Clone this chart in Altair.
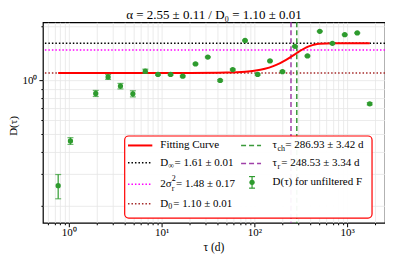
import altair as alt
import pandas as pd

FONT = "Liberation Serif"
NB = "\u00a0"

# ---- data ----
tau = [0.767, 1.04, 1.95, 2.65, 3.6, 4.9, 6.67, 9.14, 12.5, 16.9, 23.2, 31.5, 42.8,
       58.5, 79.4, 108.6, 147.5, 201, 274, 374, 508, 695, 944, 1288, 1754]
D_val = [0.259, 0.46, 0.847, 1.047, 0.93, 0.843, 1.126, 1.08, 1.08, 1.057, 1.237, 1.35, 1.0,
         1.15, 1.67, 1.08, 1.285, 1.12, 1.55, 1.37, 1.88, 1.61, 1.8, 1.84, 0.741]
D_err = [0.04, 0.02, 0.033, 0.033, 0.033, 0.033, 0.03, 0.01, 0.01, 0.01, 0.01, 0.01, 0.01,
         0.01, 0.01, 0.01, 0.01, 0.01, 0.01, 0.01, 0.01, 0.01, 0.01, 0.01, 0.01]

curve_tau = [0.767, 5, 20, 50, 80, 100, 130, 160, 190, 220, 250, 287, 320, 360, 400,
             450, 500, 600, 700, 1000, 1754]
curve_D = [1.10, 1.10, 1.101, 1.106, 1.119, 1.134, 1.163, 1.203, 1.250, 1.303, 1.358,
           1.422, 1.474, 1.524, 1.560, 1.588, 1.602, 1.609, 1.61, 1.61, 1.61]

h_names = ["D_inf", "2sigma2", "D0"]
h_values = [1.61, 1.48, 1.10]
h_colors = ["black", "magenta", "#a52a2a"]

v_names = ["tau_ch", "tau_r"]
v_values = [286.93, 248.53]
v_colors = ["#3a9a3a", "#a040a8"]

x_ticks = [0.6, 0.7, 0.8, 0.9, 1, 2, 3, 4, 5, 6, 7, 8, 9, 10, 20, 30, 40, 50, 60, 70, 80, 90,
           100, 200, 300, 400, 500, 600, 700, 800, 900, 1000, 2000]
y_ticks = [0.2, 0.3, 0.4, 0.5, 0.6, 0.7, 0.8, 0.9, 1, 2]

title_text = "α = 2.55 ± 0.11 / D₀ = 1.10 ± 0.01"
x_title = "τ (d)"
y_title = "D(τ)"

# ---- tables ----
pts = pd.DataFrame({"tau": tau, "D": D_val, "err": D_err})
pts["lo"] = pts["D"] - pts["err"]
pts["hi"] = pts["D"] + pts["err"]
curve = pd.DataFrame({"tau": curve_tau, "D": curve_D})
one = pd.DataFrame({"a": [0]})

W, H = 343, 201

is_major = "abs(log(datum.value)/LN10 - round(log(datum.value)/LN10)) < 0.001"
xscale = alt.Scale(type="log", domain=[0.525, 2565], nice=False)
yscale = alt.Scale(type="log", domain=[0.161, 2.11], nice=False)
xaxis = alt.Axis(values=x_ticks, title=None,
                 labelExpr="datum.value == 1 ? '10⁰' : datum.value == 10 ? '10¹' : datum.value == 100 ? '10²' : datum.value == 1000 ? '10³' : ''",
                 tickSize={"condition": {"test": is_major, "value": 4}, "value": 2},
                 labelOverlap=False, labelFlush=False, labelBaseline="middle", labelPadding=6)
yaxis = alt.Axis(values=y_ticks, title=None,
                 labelExpr="datum.value == 1 ? '10⁰' : ''",
                 tickSize={"condition": {"test": is_major, "value": 4}, "value": 2},
                 labelOverlap=False, labelFlush=False, labelPadding=2)

X = lambda f: alt.X(f, type="quantitative", scale=xscale, axis=xaxis)
Y = lambda f: alt.Y(f, type="quantitative", scale=yscale, axis=yaxis)

layers = []

# horizontal dotted lines
for n, v, c in zip(h_names, h_values, h_colors):
    layers.append(alt.Chart(pd.DataFrame({"v": [v]})).mark_rule(
        color=c, strokeDash=[1.5, 2], strokeWidth=1.5).encode(y=Y("v")))
# vertical dashed lines
for n, v, c in zip(v_names, v_values, v_colors):
    layers.append(alt.Chart(pd.DataFrame({"v": [v]})).mark_rule(
        color=c, strokeDash=[5, 3], strokeWidth=1.5).encode(x=X("v")))

# fitting curve
layers.append(alt.Chart(curve).mark_line(color="red", strokeWidth=2, interpolate="monotone")
              .encode(x=X("tau"), y=Y("D")))

GREEN = "#2e9b2e"
base = alt.Chart(pts)
layers.append(base.mark_rule(color=GREEN, strokeWidth=1.2).encode(x=X("tau"), y=Y("lo"), y2="hi"))
layers.append(base.mark_tick(color=GREEN, orient="horizontal", size=6, thickness=1.2)
              .encode(x=X("tau"), y=Y("lo")))
layers.append(base.mark_tick(color=GREEN, orient="horizontal", size=6, thickness=1.2)
              .encode(x=X("tau"), y=Y("hi")))
layers.append(base.mark_circle(color=GREEN, size=28, opacity=1).encode(x=X("tau"), y=Y("D")))

# ---- texts and legend (layout in pixels) ----
def txt(s, x, y, size=11, dy=0, align="left", angle=0):
    kw = dict(text=s, align=align, baseline="middle", fontSize=size, font=FONT, dy=dy,
              color="black")
    if angle:
        kw["angle"] = angle
    return alt.Chart(one).mark_text(**kw).encode(x=alt.value(x), y=alt.value(y))

def sym(x1, x2, y, color, dash=None, width=1.5):
    kw = dict(color=color, strokeWidth=width)
    if dash:
        kw["strokeDash"] = dash
    return alt.Chart(one).mark_rule(**kw).encode(x=alt.value(x1), x2=alt.value(x2), y=alt.value(y))

layers += [
    txt(title_text, W / 2, -7.3, 13, align="center"),
    txt(x_title, W / 2, 226, 11.5, align="center"),
    txt(y_title, -28.5, 104, 11, align="center", angle=270),
]

layers.append(alt.Chart(one).mark_rect(fill="white", fillOpacity=0.95, stroke="red",
                                       strokeWidth=1.2, cornerRadius=4).encode(
    x=alt.value(82), x2=alt.value(330), y=alt.value(114), y2=alt.value(196.3)))

c1s, c1e, c1t = 85.3, 109.7, 117.7
c2s, c2e, c2t = 198.7, 218.7, 230.3
r1, r2, r3, r4 = 123.5, 140.9, 162.5, 182
q1, q2, q3 = 123.5, 141.5, 160.5

layers += [
    sym(c1s, c1e, r1, "red", width=2),
    txt("Fitting Curve", c1t, r1),
    sym(c1s, c1e, r2, "black", [1.5, 2]),
    txt("D", c1t, r2), txt("∞", c1t + 8, r2, 8, 3.5), txt(NB + "= 1.61 ± 0.01", c1t + 14.3, r2),
    sym(c1s, c1e, r3, "magenta", [1.5, 2]),
    txt("2σ", c1t, r3), txt("r", c1t + 11.6, r3, 8, 5), txt("2", c1t + 11.6, r3, 8, -5),
    txt(NB + "= 1.48 ± 0.17", c1t + 15.8, r3),
    sym(c1s, c1e, r4, "#a52a2a", [1.5, 2]),
    txt("D", c1t, r4), txt("0", c1t + 8, r4, 8, 3.5), txt(NB + "= 1.10 ± 0.01", c1t + 13.1, r4),
    sym(c2s, c2e, q1, v_colors[0], [5, 3]),
    txt("τ", c2t, q1), txt("ch", c2t + 4.9, q1, 8, 3.5), txt(NB + "= 286.93 ± 3.42 d", c2t + 12.8, q1),
    sym(c2s, c2e, q2, v_colors[1], [5, 3]),
    txt("τ", c2t, q2), txt("r", c2t + 4.9, q2, 8, 3.5), txt(NB + "= 248.53 ± 3.34 d", c2t + 8.8, q2),
    alt.Chart(one).mark_rule(color=GREEN, strokeWidth=1.2).encode(
        x=alt.value(209.7), y=alt.value(154.7), y2=alt.value(166.3)),
    alt.Chart(one).mark_rule(color=GREEN, strokeWidth=1.2).encode(
        x=alt.value(206.7), x2=alt.value(212.7), y=alt.value(154.7)),
    alt.Chart(one).mark_rule(color=GREEN, strokeWidth=1.2).encode(
        x=alt.value(206.7), x2=alt.value(212.7), y=alt.value(166.3)),
    alt.Chart(one).mark_circle(color=GREEN, size=28, opacity=1).encode(
        x=alt.value(209.7), y=alt.value(q3)),
    txt("D(τ) for unfiltered F", c2t, q3),
]

chart = alt.layer(*layers).properties(
    width=W, height=H,
    autosize=alt.AutoSizeParams(type="none"),
    padding={"left": 35, "top": 14, "right": 0, "bottom": 31},
).configure_view(stroke="black", strokeWidth=1.2).configure_axis(
    domain=False, grid=True, gridColor="#e6e6e6", gridWidth=0.8,
    tickColor="black", tickWidth=1,
    labelFont=FONT, labelFontSize=11, labelColor="black",
)

chart.save("out.html", embed_options={"renderer": "svg", "actions": False})
